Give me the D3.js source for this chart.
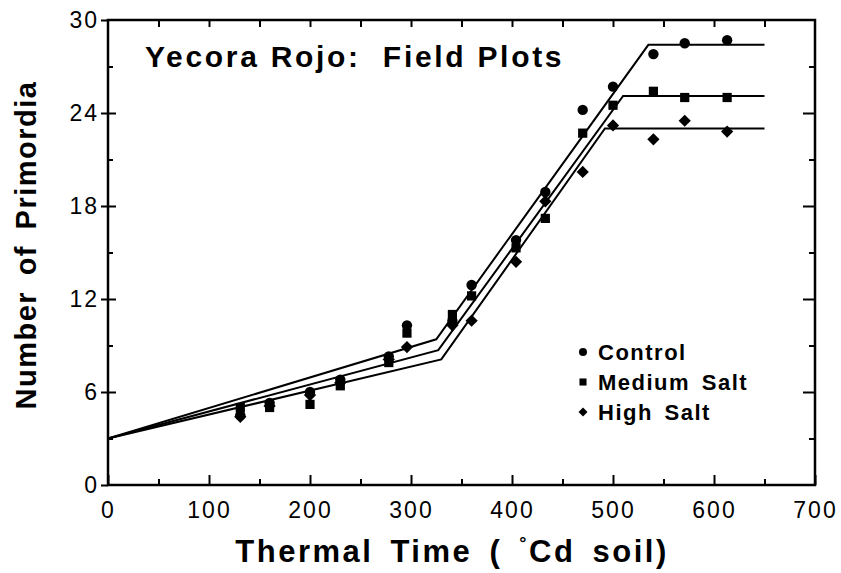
<!DOCTYPE html>
<html lang="en">
<head>
<meta charset="UTF-8">
<title>Yecora Rojo: Field Plots</title>
<script src="https://d3js.org/d3.v7.min.js"></script>
<style>
    * { margin: 0; padding: 0; }
    body { background: #fff; }
    svg text { font-family: "Liberation Sans", Arial, sans-serif; fill: #000; }
    .tick text { font-size: 23px; letter-spacing: 2px; }
    .domain { display: none; }
    .tick line { stroke: #000; stroke-width: 2; }
</style>
</head>
<body>
<div id="chart"></div>
<script>
// thermal time (°Cd soil) of each sampling
const times = [131, 160, 200, 230, 278, 296, 341, 360, 404, 433, 470, 500, 540, 571, 613];
// number of primordia per treatment
const control = [4.5, 5.3, 6.0, 6.8, 8.3, 10.3, 10.6, 12.9, 15.8, 18.9, 24.2, 25.7, 27.8, 28.5, 28.7];
const mediumSalt = [5.0, 5.0, 5.2, 6.4, 7.9, 9.8, 11.0, 12.2, 15.3, 17.2, 22.7, 24.5, 25.4, 25.0, 25.0];
const highSalt = [4.4, 5.1, 5.8, 6.6, 8.1, 8.9, 10.3, 10.6, 14.4, 18.3, 20.2, 23.2, 22.3, 23.5, 22.8];
// fitted broken-line models: [time, primordia] break points
const controlFit = [[0, 3], [325, 9.4], [535, 28.4], [650, 28.4]];
const mediumFit = [[0, 3], [327, 8.7], [510, 25.1], [650, 25.1]];
const highFit = [[0, 3], [330, 8.1], [492, 23.0], [650, 23.0]];

const xTicks = [0, 100, 200, 300, 400, 500, 600, 700];
const yTicks = [0, 6, 12, 18, 24, 30];
const legendLabels = ["Control", "Medium Salt", "High Salt"];

const w = 841, h = 573;
const svg = d3.select("#chart").append("svg")
    .attr("width", w).attr("height", h);

const x = d3.scaleLinear().domain([0, 700]).range([108, 815]);
const y = d3.scaleLinear().domain([0, 30]).range([485, 20]);

// bottom axis: labelled ticks every 100, minor every 50
svg.append("g").attr("transform", "translate(0,485)")
    .call(d3.axisBottom(x).tickValues(xTicks).tickSize(-10).tickPadding(17));
svg.append("g").attr("transform", "translate(0,485)")
    .call(d3.axisBottom(x).tickValues(d3.range(50, 700, 100)).tickSize(-6).tickFormat(""));
// top axis
svg.append("g").attr("transform", "translate(0,20)")
    .call(d3.axisTop(x).tickValues(d3.range(50, 700, 50)).tickSize(-7).tickFormat(""));

// left axis: major ticks cross the line
svg.append("g").attr("transform", "translate(108,0)")
    .call(d3.axisLeft(y).tickValues(yTicks).tickSize(7).tickPadding(2));
svg.append("g").attr("transform", "translate(108,0)")
    .call(d3.axisLeft(y).tickValues(yTicks.slice(1, 5)).tickSize(-8).tickFormat(""));
svg.append("g").attr("transform", "translate(108,0)")
    .call(d3.axisLeft(y).tickValues(d3.range(3, 30, 6)).tickSize(-5).tickFormat(""));
// right axis
svg.append("g").attr("transform", "translate(815,0)")
    .call(d3.axisRight(y).tickValues(yTicks.slice(1, 5)).tickSize(-12).tickFormat(""));
svg.append("g").attr("transform", "translate(815,0)")
    .call(d3.axisRight(y).tickValues(d3.range(3, 30, 6)).tickSize(-6).tickFormat(""));

// frame
svg.append("rect")
    .attr("x", x(0)).attr("y", y(30))
    .attr("width", x(700) - x(0)).attr("height", y(0) - y(30))
    .attr("fill", "none").attr("stroke", "#000").attr("stroke-width", 2.5);

// fitted lines
const line = d3.line().x(d => x(d[0])).y(d => y(d[1]));
[controlFit, mediumFit, highFit].forEach(fit => {
    svg.append("path").attr("d", line(fit))
        .attr("fill", "none").attr("stroke", "#000").attr("stroke-width", 2);
});

// markers
const circle = d3.symbol().type(d3.symbolCircle).size(85);
const square = d3.symbol().type(d3.symbolSquare).size(85);
const diamond = d3.symbol().type(d3.symbolSquare).size(75);

function drawSeries(vals, sym, rot) {
    svg.append("g").selectAll("path")
        .data(vals)
        .join("path")
        .attr("d", sym)
        .attr("transform", (d, i) => `translate(${x(times[i])},${y(d)}) rotate(${rot})`)
        .attr("fill", "#000");
}
drawSeries(control, circle, 0);
drawSeries(mediumSalt, square, 0);
drawSeries(highSalt, diamond, 45);

// title
svg.append("text")
    .attr("x", 145).attr("y", 67)
    .attr("font-size", 30).attr("font-weight", "bold")
    .attr("letter-spacing", 2.7)
    .attr("xml:space", "preserve")
    .text("Yecora Rojo:  Field Plots");

// legend
const legendSyms = [
    [d3.symbol().type(d3.symbolCircle).size(50), 0],
    [d3.symbol().type(d3.symbolSquare).size(50), 0],
    [d3.symbol().type(d3.symbolSquare).size(40), 45]
];
const legend = svg.append("g");
legendLabels.forEach((lab, i) => {
    const ly = 352 + i * 30;
    legend.append("path")
        .attr("d", legendSyms[i][0])
        .attr("transform", `translate(583,${ly}) rotate(${legendSyms[i][1]})`)
        .attr("fill", "#000");
    legend.append("text")
        .attr("x", 598).attr("y", ly + 8)
        .attr("font-size", 22).attr("font-weight", "bold")
        .attr("letter-spacing", 1.5).attr("word-spacing", 4)
        .text(lab);
});

// axis titles
svg.append("text")
    .attr("x", 452).attr("y", 562)
    .attr("text-anchor", "middle")
    .attr("font-size", 31).attr("font-weight", "bold")
    .attr("letter-spacing", 2.5).attr("word-spacing", 6)
    .html("Thermal Time ( <tspan dy='-13' font-size='18'>°</tspan><tspan dy='13'>Cd soil)</tspan>");

svg.append("text")
    .attr("transform", "translate(36,245) rotate(-90)")
    .attr("text-anchor", "middle")
    .attr("font-size", 29).attr("font-weight", "bold")
    .attr("letter-spacing", 1.5).attr("word-spacing", 6)
    .text("Number of Primordia");
</script>
</body>
</html>
